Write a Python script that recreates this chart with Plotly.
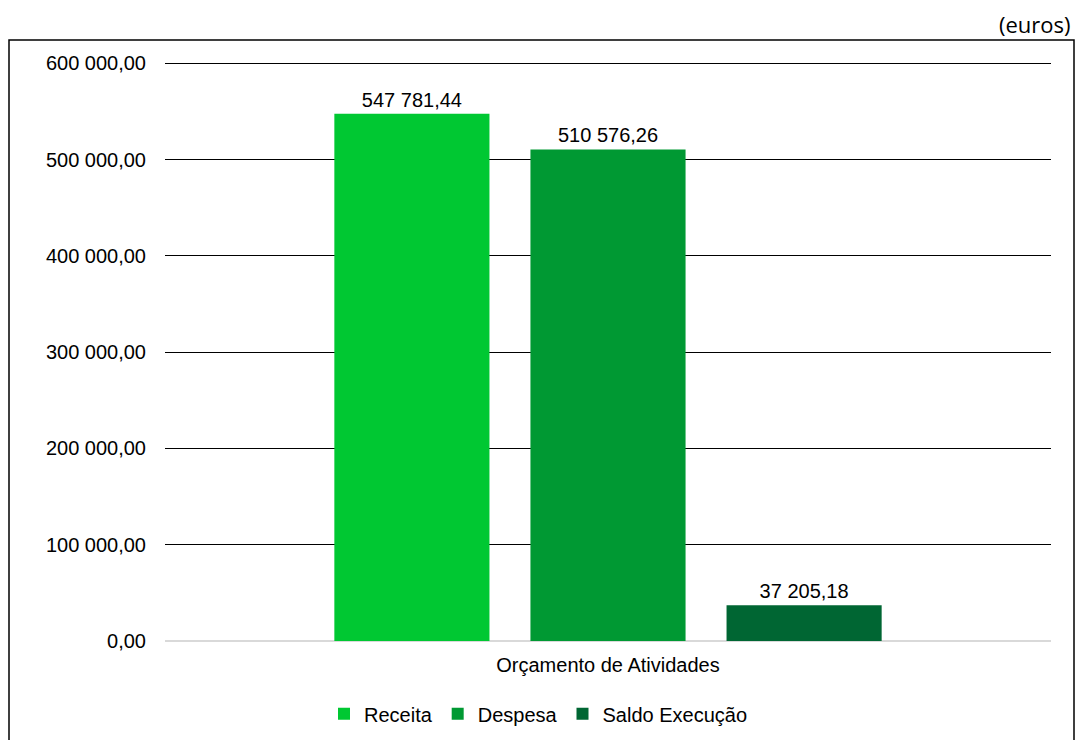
import plotly.graph_objects as go

categories = ["Orçamento de Atividades"]
series_names = ["Receita", "Despesa", "Saldo Execução"]
receita = [547781.44]
despesa = [510576.26]
saldo = [37205.18]
series_values = [receita, despesa, saldo]
series_labels = [["547 781,44"], ["510 576,26"], ["37 205,18"]]
colors = ["#00C832", "#009933", "#006633"]
tick_vals = [0, 100000, 200000, 300000, 400000, 500000, 600000]
tick_text = ["0,00", "100 000,00", "200 000,00", "300 000,00", "400 000,00", "500 000,00", "600 000,00"]

W, H = 1077, 740
L = 165
T = 61
R = W - 1051
B = H - 641
pw, ph = W - L - R, H - T - B

FONT = "Liberation Sans, Arial, sans-serif"
FS = 20

fig = go.Figure()
for name, vals, labs, c in zip(series_names, series_values, series_labels, colors):
    fig.add_trace(go.Bar(
        name=name, x=categories, y=vals, text=labs,
        textposition="outside", cliponaxis=False,
        textfont=dict(size=FS, color="#000000", family=FONT),
        marker=dict(color=c, line=dict(width=0)),
    ))

def px_x(px):
    return (px - L) / pw

def px_y(py):
    return (H - B - py) / ph

fig.update_layout(
    width=W, height=H,
    margin=dict(l=L, r=R, t=T, b=B),
    paper_bgcolor="white", plot_bgcolor="white",
    barmode="group", bargap=0.336, bargroupgap=0.209,
    font=dict(family=FONT, size=FS, color="#000000"),
    showlegend=True,
    legend=dict(orientation="h", xref="container", x=0.5, xanchor="center",
                yref="container", y=0.0355, yanchor="middle",
                font=dict(size=FS, family=FONT), itemwidth=30,
                traceorder="normal"),
    xaxis=dict(showgrid=False, showline=False, ticks="", tickfont=dict(size=FS),
               range=[-0.5, 0.5], ticklabelstandoff=10),
    yaxis=dict(range=[0, 602500], tickvals=tick_vals, ticktext=tick_text,
               showgrid=True, gridcolor="#000000", gridwidth=1,
               zeroline=True, zerolinecolor="#D9D9D9", zerolinewidth=2,
               showline=False, ticks="", ticklabelstandoff=18,
               tickfont=dict(size=FS)),
    shapes=[dict(type="rect", xref="paper", yref="paper",
                 x0=px_x(9), x1=px_x(1074), y0=px_y(780), y1=px_y(40),
                 line=dict(color="#000000", width=1.5), fillcolor="rgba(0,0,0,0)",
                 layer="below")],
    annotations=[dict(text="(euros)", xref="paper", yref="paper",
                      x=px_x(1073), y=px_y(24), xanchor="right", yanchor="middle",
                      showarrow=False, font=dict(size=22, family="Open Sans, sans-serif"))],
)

fig.write_html(
    "out.html",
    config={"displayModeBar": False},
    post_script="document.body.style.margin='0';document.body.style.overflow='hidden';",
)
